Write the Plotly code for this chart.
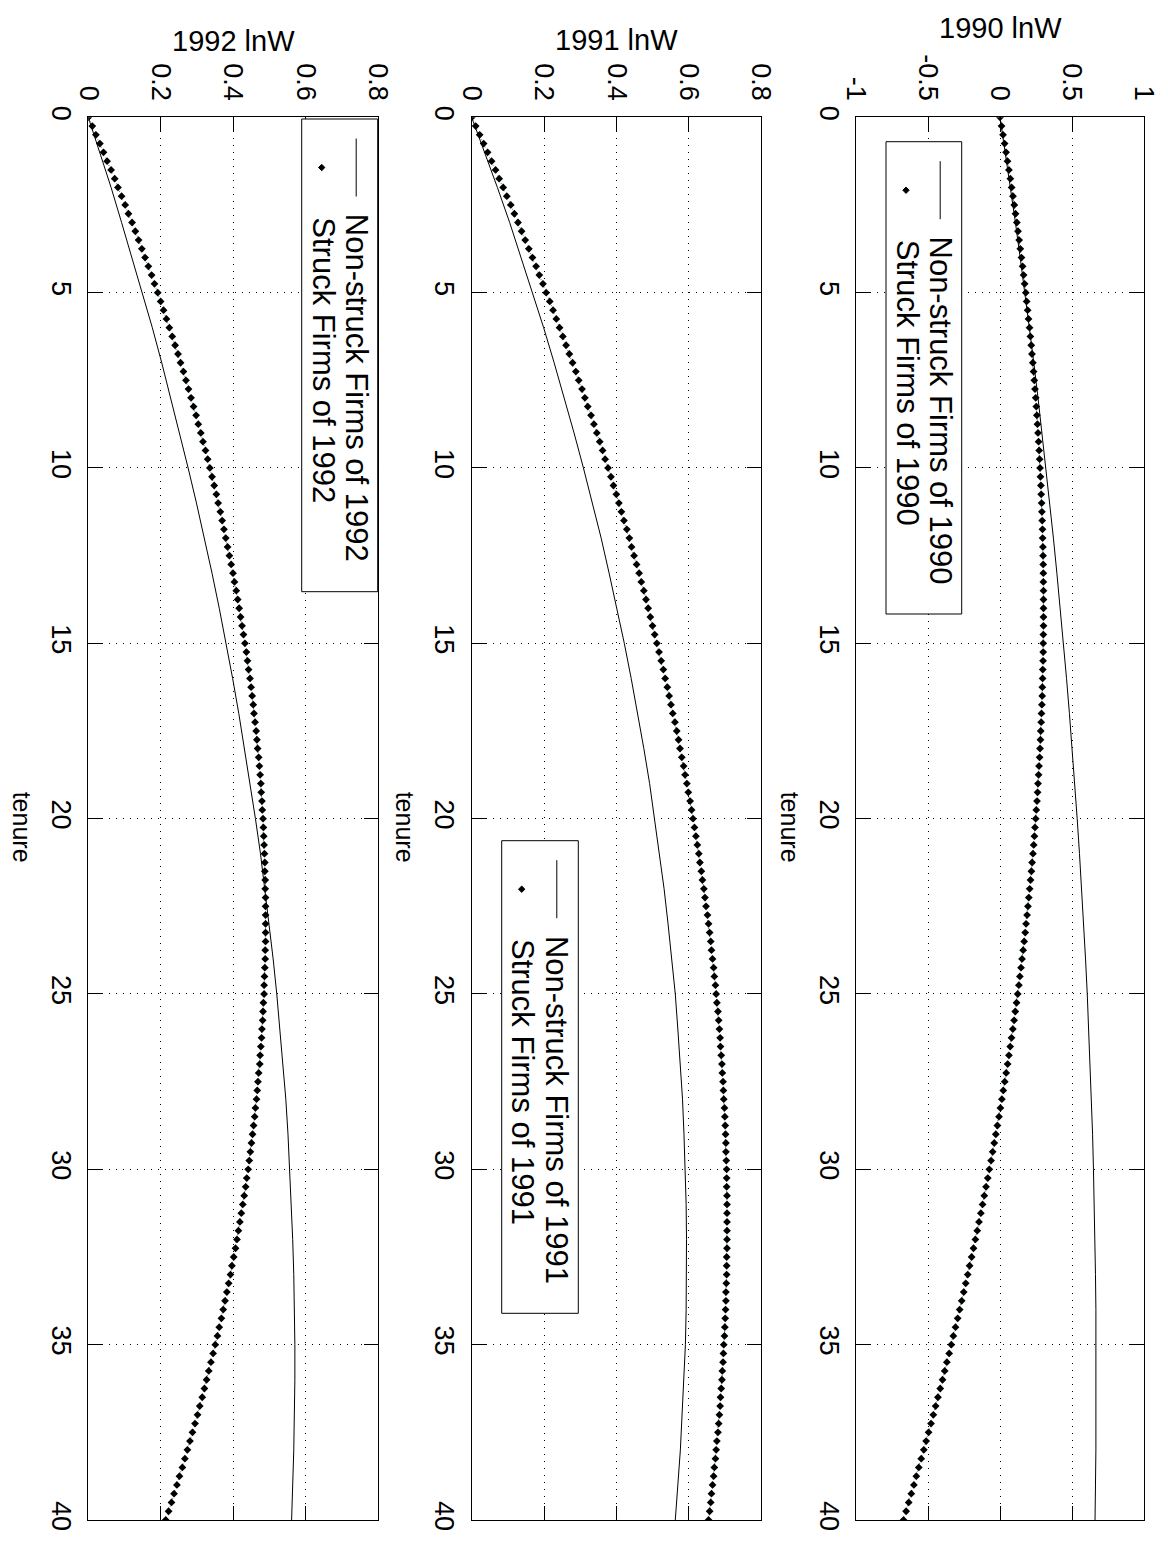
import plotly.graph_objects as go

W, H = 1168, 1550
FONT = "Liberation Sans"

# ---------------- data ----------------
tenure_ns = list(range(41))
tenure_s = [k * 0.25 for k in range(161)]

ns_1990 = [0, .037, .072, .107, .140, .173, .204, .235, .264, .292, .320, .346, .371, .395,
           .419, .441, .462, .482, .501, .519, .536, .552, .567, .581, .594, .606, .616, .626,
           .635, .643, .649, .655, .660, .663, .666, .667, .668, .667, .666, .663, .660]
ns_1991 = [0, .036, .071, .105, .137, .169, .199, .228, .256, .283, .309, .334, .358, .380,
           .402, .422, .441, .459, .476, .492, .506, .520, .532, .543, .553, .563, .570, .577,
           .583, .587, .591, .593, .594, .594, .593, .591, .587, .583, .577, .570, .563]
ns_1992 = [0, .032, .063, .092, .121, .150, .177, .203, .228, .253, .276, .299, .321, .342,
           .362, .381, .399, .416, .432, .448, .462, .476, .488, .500, .511, .521, .530, .538,
           .546, .552, .557, .562, .565, .568, .570, .571, .571, .570, .568, .565, .562]

s_1990 = [0, .011, .021, .032, .042, .052, .062, .072, .081, .090, .099, .108,
          .117, .125, .133, .141, .149, .157, .164, .171, .179, .185, .192, .198,
          .205, .211, .217, .222, .228, .233, .238, .243, .248, .252, .256, .260,
          .264, .268, .272, .275, .278, .281, .284, .286, .289, .291, .293, .295,
          .296, .298, .299, .300, .301, .301, .302, .302, .302, .302, .302, .301,
          .300, .300, .299, .297, .296, .294, .293, .291, .288, .286, .283, .281,
          .278, .275, .271, .268, .264, .261, .257, .252, .248, .243, .239, .234,
          .229, .223, .218, .212, .206, .200, .194, .188, .181, .175, .168, .161,
          .153, .146, .138, .131, .123, .115, .106, .098, .089, .080, .071, .062,
          .053, .043, .033, .023, .013, .003, -.007, -.018, -.029, -.040, -.051, -.062,
          -.074, -.085, -.097, -.109, -.121, -.133, -.146, -.158, -.171, -.184, -.197, -.211,
          -.224, -.238, -.252, -.266, -.280, -.294, -.309, -.324, -.338, -.353, -.369, -.384,
          -.399, -.415, -.431, -.447, -.463, -.479, -.496, -.513, -.529, -.547, -.564, -.581,
          -.598, -.616, -.634, -.652, -.670]
s_1991 = [0, .011, .022, .033, .044, .055, .066, .076, .087, .097, .108, .118,
          .128, .138, .148, .158, .168, .178, .187, .197, .206, .216, .225, .234,
          .243, .252, .261, .270, .279, .288, .296, .305, .313, .321, .330, .338,
          .346, .354, .362, .369, .377, .385, .392, .400, .407, .414, .421, .429,
          .436, .442, .449, .456, .463, .469, .476, .482, .488, .494, .500, .506,
          .512, .518, .524, .530, .535, .541, .546, .551, .556, .562, .567, .572,
          .576, .581, .586, .590, .595, .599, .604, .608, .612, .616, .620, .624,
          .628, .631, .635, .638, .642, .645, .648, .652, .655, .658, .661, .663,
          .666, .669, .671, .674, .676, .678, .681, .683, .685, .687, .688, .690,
          .692, .693, .695, .696, .697, .699, .700, .701, .702, .703, .703, .704,
          .705, .705, .705, .706, .706, .706, .706, .706, .706, .706, .705, .705,
          .705, .704, .703, .703, .702, .701, .700, .699, .697, .696, .695, .693,
          .692, .690, .688, .687, .685, .683, .681, .678, .676, .674, .671, .669,
          .666, .663, .661, .658, .655]
s_1992 = [0, .011, .021, .032, .042, .052, .063, .073, .082, .092, .102, .111,
          .121, .130, .139, .148, .157, .166, .175, .183, .192, .200, .208, .216,
          .224, .232, .240, .248, .255, .263, .270, .277, .284, .291, .298, .304,
          .311, .317, .324, .330, .336, .342, .348, .354, .359, .365, .370, .375,
          .380, .385, .390, .395, .400, .404, .409, .413, .417, .421, .425, .429,
          .433, .437, .440, .443, .447, .450, .453, .456, .458, .461, .464, .466,
          .468, .471, .473, .475, .477, .478, .480, .481, .483, .484, .485, .486,
          .487, .488, .488, .489, .489, .490, .490, .490, .490, .490, .490, .489,
          .489, .488, .487, .486, .486, .484, .483, .482, .480, .479, .477, .475,
          .474, .471, .469, .467, .465, .462, .460, .457, .454, .451, .448, .445,
          .442, .438, .435, .431, .427, .423, .419, .415, .411, .407, .402, .397,
          .393, .388, .383, .378, .373, .368, .362, .357, .351, .345, .339, .333,
          .327, .321, .315, .308, .302, .295, .288, .281, .274, .267, .260, .252,
          .245, .237, .230, .222, .214]

years = ["1992", "1991", "1990"]
ns_series = [ns_1992, ns_1991, ns_1990]
s_series = [s_1992, s_1991, s_1990]
x_ranges = [[0, 0.8], [0, 0.8], [-1, 1]]
x_tickvals = [[0, 0.2, 0.4, 0.6, 0.8], [0, 0.2, 0.4, 0.6, 0.8], [-1, -0.5, 0, 0.5, 1]]
x_ticktext = [["0", "0.2", "0.4", "0.6", "0.8"], ["0", "0.2", "0.4", "0.6", "0.8"],
              ["-1", "-0.5", "0", "0.5", "1"]]
y_tickvals = [0, 5, 10, 15, 20, 25, 30, 35, 40]
y_ticktext = ["0", "5", "10", "15", "20", "25", "30", "35", "40"]
ns_label = "Non-struck Firms of "
s_label = "Struck Firms of "
x_title_suffix = " lnW"
y_title = "tenure"

# ---------------- layout helpers (pixel geometry) ----------------
def px(x):
    return x / W

def py(y):
    return 1 - y / H

panel_x = [(88.3, 377.7), (471.7, 761.0), (856.0, 1144.0)]
plot_top, plot_bot = 117.3, 1520.0
title_y = [41, 40, 28]
ylab_x = [22, 405, 790]
# legend boxes: (left, right, top, bottom)
leg_box = [(301.7, 377.7, 119.0, 591.7), (501.7, 578.3, 840.7, 1313.3), (886.0, 961.7, 141.7, 614.0)]

fig = go.Figure()
shapes = []
annotations = []
layout_axes = {}

for i in range(3):
    xa = "x" if i == 0 else f"x{i+1}"
    ya = "y" if i == 0 else f"y{i+1}"
    xkey = "xaxis" if i == 0 else f"xaxis{i+1}"
    ykey = "yaxis" if i == 0 else f"yaxis{i+1}"

    fig.add_trace(go.Scatter(x=ns_series[i], y=tenure_ns, mode="lines",
                             line=dict(color="black", width=1), xaxis=xa, yaxis=ya,
                             showlegend=False, hoverinfo="skip"))
    fig.add_trace(go.Scatter(x=s_series[i], y=tenure_s, mode="lines",
                             line=dict(color="#00b000", width=1, dash="1px,3px"),
                             xaxis=xa, yaxis=ya, showlegend=False, hoverinfo="skip"))
    fig.add_trace(go.Scatter(x=s_series[i], y=tenure_s, mode="markers",
                             marker=dict(symbol="diamond", size=6, color="black"),
                             xaxis=xa, yaxis=ya, showlegend=False, hoverinfo="skip"))

    common = dict(
        ticks="inside", ticklen=14, tickwidth=1, tickcolor="black",
        showline=True, linecolor="black", linewidth=1, mirror="ticks",
        showgrid=True, gridcolor="black", gridwidth=1, griddash="1px,6px",
        zeroline=False, tickangle=90,
        tickfont=dict(family=FONT, size=27, color="black"),
    )
    layout_axes[xkey] = dict(domain=[px(panel_x[i][0]), px(panel_x[i][1])], anchor=ya,
                             side="top", range=x_ranges[i], autorange=False,
                             tickvals=x_tickvals[i], ticktext=x_ticktext[i],
                             ticklabelstandoff=6, **common)
    layout_axes[ykey] = dict(domain=[py(plot_bot), py(plot_top)], anchor=xa,
                             range=[40, 0], autorange=False,
                             tickvals=y_tickvals, ticktext=y_ticktext,
                             ticklabelstandoff=3, **common)

    cx = (panel_x[i][0] + panel_x[i][1]) / 2
    annotations.append(dict(text=years[i] + x_title_suffix, x=px(cx), y=py(title_y[i]),
                            xref="paper", yref="paper", xanchor="center", yanchor="middle",
                            showarrow=False, font=dict(family=FONT, size=29, color="black")))
    annotations.append(dict(text=y_title, x=px(ylab_x[i]), y=py((plot_top + plot_bot) / 2 + 8),
                            xref="paper", yref="paper", xanchor="center", yanchor="middle",
                            textangle=90, showarrow=False,
                            font=dict(family=FONT, size=25, color="black")))

    # manual rotated legend
    l, r, t, b = leg_box[i]
    shapes.append(dict(type="rect", xref="paper", yref="paper",
                       x0=px(l), x1=px(r), y0=py(b), y1=py(t),
                       line=dict(color="black", width=1), fillcolor="white", layer="above"))
    xl = r - 21.5
    xd = l + 20
    shapes.append(dict(type="line", xref="paper", yref="paper",
                       x0=px(xl), x1=px(xl), y0=py(t + 19.5), y1=py(t + 77.5),
                       line=dict(color="black", width=1), layer="above"))
    cy = t + 48.5
    d = 3.2
    shapes.append(dict(type="path", xref="paper", yref="paper",
                       path=f"M {px(xd - d)} {py(cy)} L {px(xd)} {py(cy - d)} L {px(xd + d)} {py(cy)} L {px(xd)} {py(cy + d)} Z",
                       line=dict(color="black", width=1), fillcolor="black", layer="above"))
    annotations.append(dict(text=ns_label + years[i], x=px(xl), y=py(t + 93),
                            xref="paper", yref="paper", xanchor="center", yanchor="top",
                            textangle=90, showarrow=False,
                            font=dict(family=FONT, size=31, color="black")))
    annotations.append(dict(text=s_label + years[i], x=px(xd + 1), y=py(t + 96),
                            xref="paper", yref="paper", xanchor="center", yanchor="top",
                            textangle=90, showarrow=False,
                            font=dict(family=FONT, size=31, color="black")))

fig.update_layout(
    width=W, height=H,
    margin=dict(l=0, r=0, t=0, b=0, autoexpand=False),
    paper_bgcolor="white", plot_bgcolor="white",
    shapes=shapes, annotations=annotations,
    showlegend=False,
    **layout_axes,
)

fig.write_html("out.html",
               config={"displayModeBar": False},
               post_script="document.body.style.margin='0';document.body.style.padding='0';")
